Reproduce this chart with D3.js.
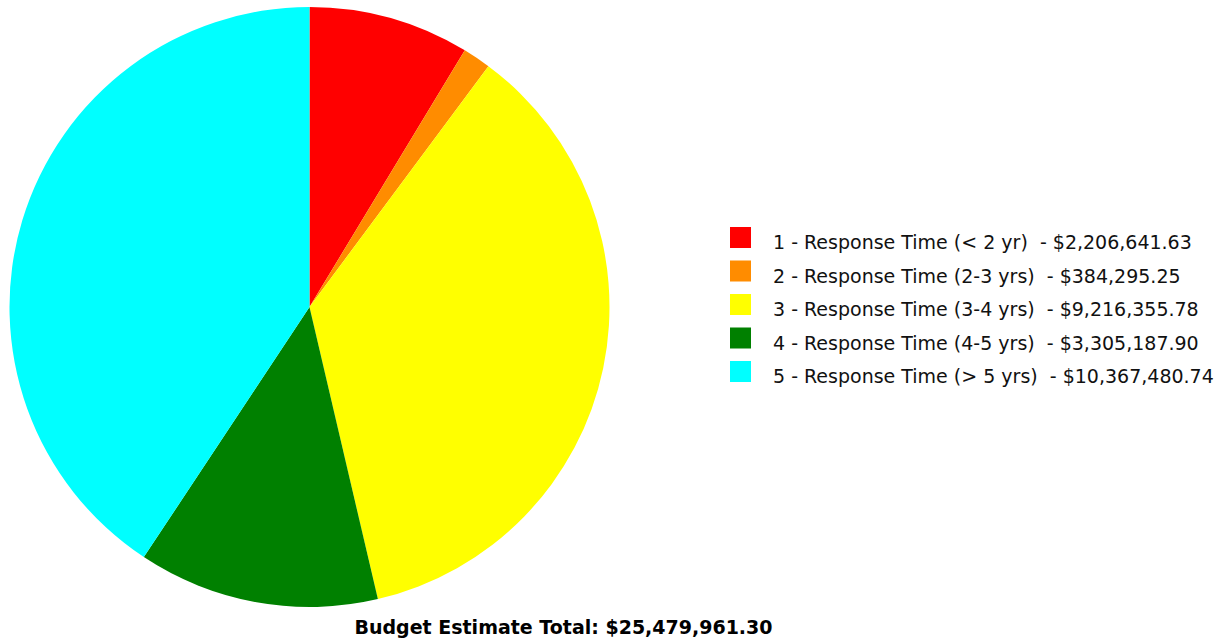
<!DOCTYPE html>
<html>
<head>
<meta charset="utf-8">
<script src="https://cdn.jsdelivr.net/npm/d3@7"></script>
<style>
  html, body { margin: 0; padding: 0; background: #fff; }
  svg { display: block; }
  text { font-family: "DejaVu Sans", Verdana, sans-serif; white-space: pre; }
</style>
</head>
<body>
<svg id="chart" width="1230" height="643"></svg>
<script>
// Budget by response time category
const categories = [
  "1 - Response Time (< 2 yr)",
  "2 - Response Time (2-3 yrs)",
  "3 - Response Time (3-4 yrs)",
  "4 - Response Time (4-5 yrs)",
  "5 - Response Time (> 5 yrs)"
];
const values = [2206641.63, 384295.25, 9216355.78, 3305187.90, 10367480.74];
const colors = ["#ff0000", "#ff8c00", "#ffff00", "#008000", "#00ffff"];
const totalLabel = "Budget Estimate Total: $25,479,961.30";

const svg = d3.select("#chart");
const cx = 309.5, cy = 307, r = 300;

const slices = categories.map((c, i) => ({ name: c, value: values[i], color: colors[i] }));

const pie = d3.pie().sort(null).value(d => d.value);
const arc = d3.arc().innerRadius(0).outerRadius(r);

svg.append("g")
  .attr("transform", `translate(${cx},${cy})`)
  .selectAll("path")
  .data(pie(slices))
  .join("path")
  .attr("d", arc)
  .attr("fill", d => d.data.color);

// Legend
const money = d3.format("$,.2f");
const legendY = d3.scaleBand()
  .domain(categories)
  .range([227, 227 + 33.5 * categories.length])
  .paddingInner(0);

const legend = svg.append("g");
const rows = legend.selectAll("g")
  .data(slices)
  .join("g")
  .attr("transform", d => `translate(730,${legendY(d.name)})`);

rows.append("rect")
  .attr("width", 21)
  .attr("height", 21)
  .attr("fill", d => d.color);

rows.append("text")
  .attr("x", 43)
  .attr("y", 22)
  .attr("font-size", 19)
  .attr("fill", "#111")
  .text(d => `${d.name}  - ${money(d.value)}`);

// Total
svg.append("text")
  .attr("x", 563.5)
  .attr("y", 634)
  .attr("text-anchor", "middle")
  .attr("font-size", 19)
  .attr("font-weight", "bold")
  .attr("fill", "#000")
  .text(totalLabel);
</script>
</body>
</html>
